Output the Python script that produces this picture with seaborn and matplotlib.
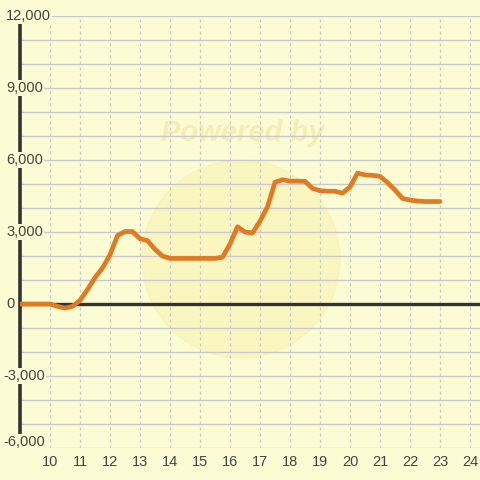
import matplotlib.pyplot as plt
import matplotlib.patches as mpatches
import matplotlib.transforms as mtransforms
import seaborn as sns
import pandas as pd

# hours of the day (every 15 minutes) and running total
hours = [9.0, 9.25, 9.5, 9.75, 10.0, 10.25, 10.5, 10.75, 11.0, 11.25, 11.5, 11.75,
         12.0, 12.25, 12.5, 12.75, 13.0, 13.25, 13.5, 13.75, 14.0, 14.25, 14.5, 14.75,
         15.0, 15.25, 15.5, 15.75, 16.0, 16.25, 16.5, 16.75, 17.0, 17.25, 17.5, 17.75,
         18.0, 18.25, 18.5, 18.75, 19.0, 19.25, 19.5, 19.75, 20.0, 20.25, 20.5, 20.75,
         21.0, 21.25, 21.5, 21.75, 22.0, 22.25, 22.5, 22.75, 23.0]
values = [0, 0, 0, 0, 0, -100, -170, -100, 150, 600, 1100, 1500,
          2050, 2850, 3020, 3020, 2720, 2640, 2280, 2000, 1900, 1900, 1900, 1900,
          1900, 1900, 1900, 1950, 2500, 3220, 3000, 2960, 3450, 4050, 5070, 5180,
          5120, 5120, 5110, 4820, 4720, 4700, 4700, 4620, 4880, 5450, 5380, 5360,
          5320, 5060, 4750, 4400, 4330, 4290, 4270, 4270, 4270]

x_ticks = list(range(10, 25))
y_labels = [12000, 9000, 6000, 3000, 0, -3000, -6000]

df = pd.DataFrame({"hour": hours, "value": values})

bg = "#fcfcd4"
sns.set_theme(style="white", rc={"axes.facecolor": bg, "figure.facecolor": bg})
plt.rcParams['font.family'] = ['Liberation Sans', 'DejaVu Sans']

fig = plt.figure(figsize=(4.8, 4.8), dpi=100)
ax = fig.add_axes([20 / 480, 1 - 448 / 480, 460 / 480, 432 / 480])

# faint watermark behind the chart
ax.add_patch(mpatches.Circle((241 / 480, 1 - 259 / 480), 99 / 480,
                             transform=fig.transFigure, color="#f8eda0",
                             alpha=0.4, zorder=0.5, clip_on=False))
ax.text(243 / 480, 1 - 133 / 480, "Powered by", transform=fig.transFigure,
        ha="center", va="center", fontsize=21, fontweight="bold", style="italic",
        color="#f6edb4", zorder=0.5)

# grid
for v in range(-6000, 12001, 1000):
    ax.axhline(v, color="#c9c9c9", lw=1, zorder=1)
for h in x_ticks:
    ax.axvline(h, color="#c9c9c9", lw=0.9, ls=(0, (2.4, 2.4)), zorder=1)
ax.axhline(0, color="#333333", lw=2.4, zorder=2)

sns.lineplot(data=df, x="hour", y="value", color="#e07b24", lw=3.4, ax=ax, zorder=3)

ax.set_xlim(9, 9 + 460 / 30)
ax.set_ylim(-6000, 12000)
ax.set_xticks(x_ticks)
ax.set_xticklabels([str(h) for h in x_ticks], fontsize=10.5, color="#444444")
ax.tick_params(axis="x", length=0, pad=5)
ax.set_yticks([])
ax.set_xlabel("")
ax.set_ylabel("")

for side in ["top", "right", "bottom"]:
    ax.spines[side].set_visible(False)
ax.spines["left"].set_color("#333333")
ax.spines["left"].set_linewidth(2.6)
ax.spines["left"].set_zorder(2)

# y labels sit over the axis line with a background box
trans = mtransforms.blended_transform_factory(fig.transFigure, ax.transData)
for v in y_labels:
    lab = f"{v:,}"
    yv = v if v > -6000 else -5750
    ax.text(6 / 480 if v >= 0 else 3 / 480, yv, lab, transform=trans, ha="left", va="center",
            fontsize=10.5, color="#444444", zorder=4, clip_on=False,
            bbox=dict(boxstyle="square,pad=0.1", fc=bg, ec="none"))

plt.savefig("out.png", dpi=100, facecolor=bg)
